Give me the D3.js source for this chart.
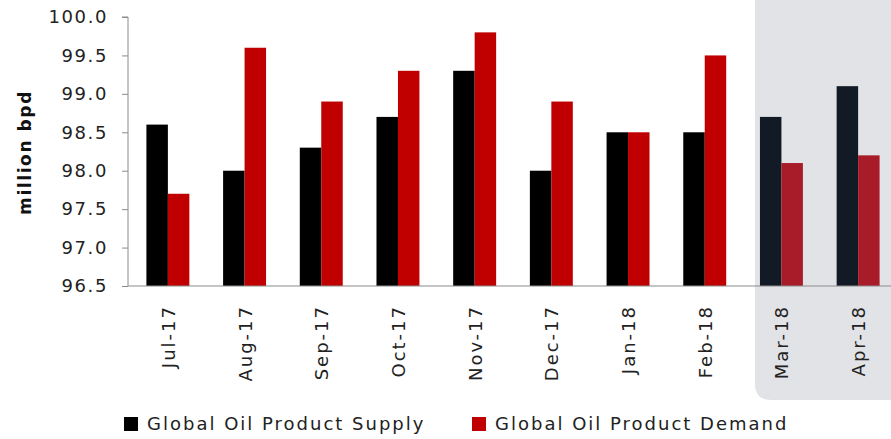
<!DOCTYPE html>
<html>
<head>
  <meta charset="utf-8">
  <title>Global Oil Product Supply and Demand</title>
  <script src="https://cdnjs.cloudflare.com/ajax/libs/d3/7.8.5/d3.min.js"></script>
  <style>
    html, body { margin: 0; padding: 0; background: #fff; }
    svg { display: block; font-family: "DejaVu Sans", Verdana, sans-serif; }
  </style>
</head>
<body>
  <svg id="chart" width="891" height="439"></svg>
  <script>
    const months = ['Jul-17', 'Aug-17', 'Sep-17', 'Oct-17', 'Nov-17', 'Dec-17', 'Jan-18', 'Feb-18', 'Mar-18', 'Apr-18']
    const supply = [98.6, 98.0, 98.3, 98.7, 99.3, 98.0, 98.5, 98.5, 98.7, 99.1]
    const demand = [97.7, 99.6, 98.9, 99.3, 99.8, 98.9, 98.5, 99.5, 98.1, 98.2]
    const forecast = ['Mar-18', 'Apr-18'] // shaded months
    const yTicks = [96.5, 97.0, 97.5, 98.0, 98.5, 99.0, 99.5, 100.0]
    const seriesNames = ['Global Oil Product Supply', 'Global Oil Product Demand']

    const svg = d3.select('#chart')
    const mLeft = 128, mRight = 898, mTop = 17, mBottom = 286

    const x = d3.scaleBand().domain(months).range([mLeft, mRight]).paddingInner(0.44).paddingOuter(0.24)
    const xs = d3.scaleBand().domain([0, 1]).range([0, x.bandwidth()])
    const y = d3.scaleLinear().domain([96.5, 100]).range([mBottom, mTop])

    // shaded forecast panel, rounded at bottom-left
    const fx = x(forecast[0]) - 5
    svg.append('path')
      .attr('d', `M${fx},0 H891 V400 H${fx + 16} Q${fx},400 ${fx},384 Z`)
      .attr('fill', '#e2e3e7')

    // y axis
    const yAxis = d3.axisLeft(y).tickValues(yTicks).tickFormat(d3.format('.1f')).tickSize(6).tickPadding(14)
    const gy = svg.append('g').attr('transform', `translate(${mLeft},0)`).call(yAxis)
      .attr('font-family', null).attr('font-size', null)
    gy.select('.domain').attr('stroke', '#8c8c8c').attr('d', `M-6,${mTop}H0V${mBottom}`)
    gy.selectAll('.tick line').attr('stroke', '#8c8c8c')
    gy.selectAll('.tick text').attr('fill', '#222')
      .style('font-size', '18px').style('letter-spacing', '1.6px')

    svg.append('text')
      .attr('transform', `translate(31,${(mTop + mBottom) / 2 + 1}) rotate(-90)`)
      .attr('text-anchor', 'middle')
      .attr('fill', '#111')
      .style('font-size', '17px').style('font-weight', 'bold').style('letter-spacing', '1.6px')
      .text('million bpd')

    // bars
    const isF = m => forecast.includes(m)
    const colors = [m => isF(m) ? '#121a26' : '#000', m => isF(m) ? '#a81b29' : '#c00000']
    ;[supply, demand].forEach((vals, si) => {
      svg.append('g').selectAll('rect').data(months).join('rect')
        .attr('x', m => x(m) + xs(si))
        .attr('width', xs.bandwidth())
        .attr('y', (m, i) => y(vals[i]))
        .attr('height', (m, i) => y(96.5) - y(vals[i]))
        .attr('fill', m => colors[si](m))
    })

    // x axis
    svg.append('line').attr('x1', mLeft).attr('x2', 891).attr('y1', mBottom).attr('y2', mBottom)
      .attr('stroke', '#8c8c8c').attr('stroke-width', 1.2)
    svg.append('g').selectAll('text').data(months).join('text')
      .attr('transform', m => `translate(${x(m) + x.bandwidth() / 2 + 7},305) rotate(-90)`)
      .attr('text-anchor', 'end')
      .attr('fill', '#222')
      .style('font-size', '18px').style('letter-spacing', '2px')
      .text(m => m)

    // legend
    const legX = [124, 472]
    seriesNames.forEach((name, i) => {
      const g = svg.append('g').attr('transform', `translate(${legX[i]},417)`)
      g.append('rect').attr('width', 14).attr('height', 14).attr('fill', i ? '#c00000' : '#000')
      g.append('text').attr('x', 23).attr('y', 13).attr('fill', '#222')
        .style('font-size', '18px').style('letter-spacing', '2px')
        .text(name)
    })
  </script>
</body>
</html>
